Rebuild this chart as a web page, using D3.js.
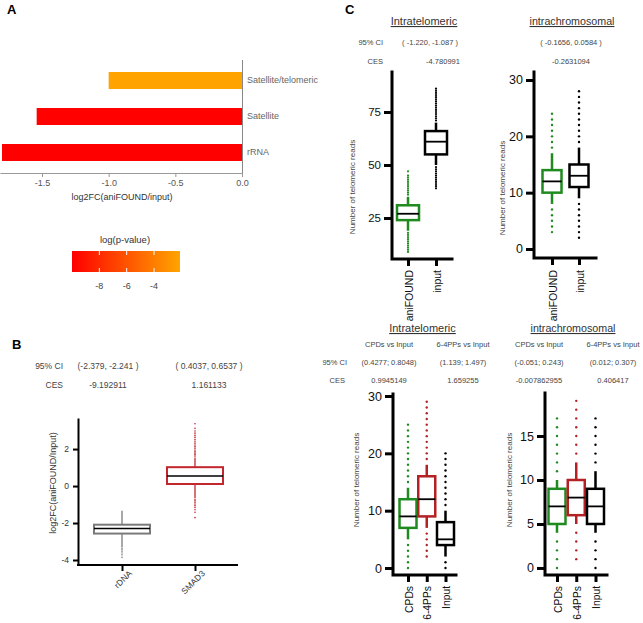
<!DOCTYPE html>
<html><head><meta charset="utf-8">
<script src="https://cdn.jsdelivr.net/npm/d3@7"></script>
<style>body{margin:0;background:#fff}svg{display:block}</style>
</head><body>
<script>
// ---------------- DATA ----------------
// Panel A
const aCategories = ["Satellite/telomeric", "Satellite", "rRNA"];
const aLog2FC = [-1.0, -1.54, -1.80];
const aLogP = [-2.2, -9.9, -10.0];
const aTicks = [-1.5, -1.0, -0.5, 0.0];
const aLegendTicks = [-8, -6, -4];

// Panel B
const bCategories = ["rDNA", "SMAD3"];
const bQ1 = [-2.57, 0.11];
const bMedian = [-2.30, 0.54];
const bQ3 = [-2.09, 1.02];
const bWhiskerLow = [-3.32, -0.64];
const bWhiskerHigh = [-1.34, 1.55];
const bOutliersRDNA = [-3.38, -3.45, -3.53, -3.62, -3.72, -3.86];
const bOutliersSMAD3 = [1.62, 1.70, 1.78, 1.86, 1.95, 2.04, 2.13, 2.22, 2.32, 2.42, 2.52, 2.63, 2.74, 2.86, 2.98, 3.12, 3.37,
                        -0.72, -0.80, -0.88, -0.97, -1.06, -1.16, -1.28, -1.42, -1.71];
const bCI = ["(-2.379, -2.241 )", "( 0.4037,  0.6537 )"];
const bCES = ["-9.192911", "1.161133"];
const bTicks = [2, 0, -2, -4];

// Panel C, top-left (Intratelomeric)
const c1Categories = ["aniFOUND", "input"];
const c1Q1 = [24, 55];
const c1Median = [27, 61];
const c1Q3 = [31, 66];
const c1WhiskerLow = [19, 50];
const c1WhiskerHigh = [35, 70];
const c1OutliersFound = [9, 10, 11, 12, 13, 14, 15, 16, 17, 18, 36, 37, 38, 39, 40, 41, 42, 43, 44, 45, 47];
const c1OutliersInput = [39, 40, 41, 42, 43, 44, 45, 46, 47, 48, 49, 71, 72, 73, 74, 75, 76, 77, 78, 79, 80, 81, 82, 83, 84, 85, 86];
const c1Ticks = [25, 50, 75];
const c1CI = "( -1.220, -1.087 )";
const c1CES = "-4.780991";

// Panel C, top-right (intrachromosomal)
const c2Categories = ["aniFOUND", "input"];
const c2Q1 = [10, 11];
const c2Median = [12, 13];
const c2Q3 = [14, 15];
const c2WhiskerLow = [8, 9];
const c2WhiskerHigh = [17, 18];
const c2OutliersFound = [3, 4, 5, 6, 7, 18, 19, 20, 21, 22, 23, 24];
const c2OutliersInput = [2, 3, 4, 5, 6, 7, 8, 19, 20, 21, 22, 23, 24, 25, 26, 27, 28];
const c2Ticks = [0, 10, 20, 30];
const c2CI = "( -0.1656,  0.0584 )";
const c2CES = "-0.2631094";

// Panel C, bottom-left (Intratelomeric, UV)
const c3Categories = ["CPDs", "6-4PPs", "Input"];
const c3Q1 = [7, 9, 4];
const c3Median = [9, 12, 5];
const c3Q3 = [12, 16, 8];
const c3WhiskerLow = [5, 7, 2];
const c3WhiskerHigh = [14, 18, 10];
const c3OutliersCPD = [0, 1, 2, 3, 4, 15, 16, 17, 18, 19, 20, 21, 22, 23, 24, 25];
const c3Outliers64 = [2, 3, 4, 5, 6, 19, 20, 21, 22, 23, 24, 25, 26, 27, 28, 29];
const c3OutliersInput = [0, 1, 11, 12, 13, 14, 15, 16, 17, 18, 19, 20];
const c3Ticks = [0, 10, 20, 30];
const c3Comparisons = ["CPDs vs Input", "6-4PPs vs Input"];
const c3CI = ["(0.4277; 0.8048)", "(1.139; 1.497)"];
const c3CES = ["0.9945149", "1.659255"];

// Panel C, bottom-right (intrachromosomal, UV)
const c4Categories = ["CPDs", "6-4PPs", "Input"];
const c4Q1 = [5, 6, 5];
const c4Median = [7, 8, 7];
const c4Q3 = [9, 10, 9];
const c4WhiskerLow = [4, 5, 4];
const c4WhiskerHigh = [10, 12, 11];
const c4OutliersCPD = [0, 1, 2, 3, 11, 12, 13, 14, 15, 16, 17];
const c4Outliers64 = [1, 2, 3, 4, 13, 14, 15, 16, 17, 18, 19];
const c4OutliersInput = [0, 1, 2, 3, 12, 13, 14, 15, 16, 17];
const c4Ticks = [0, 5, 10, 15];
const c4Comparisons = ["CPDs vs Input", "6-4PPs vs Input"];
const c4CI = ["(-0.051; 0.243)", "(0.012; 0.307)"];
const c4CES = ["-0.007862955", "0.406417"];

// ---------------- DRAW ----------------
const FONT = '"Liberation Sans", Arial, Helvetica, sans-serif';
const GREEN = "#1f8a1f", RED = "#b32124", BLACK = "#000";
const svg = d3.select("body").append("svg").attr("width", 643).attr("height", 623)
  .attr("font-family", FONT);

function txt(g, x, y, s, o = {}) {
  const t = g.append("text").attr("x", x).attr("y", y).text(s)
    .attr("font-size", o.size || 8).attr("fill", o.fill || "#444")
    .attr("text-anchor", o.anchor || "middle");
  if (o.weight) t.attr("font-weight", o.weight);
  if (o.underline) t.style("text-decoration", "underline");
  return t;
}

txt(svg, 7, 14, "A", {size: 13, weight: "bold", fill: "#000", anchor: "start"});
txt(svg, 12, 349, "B", {size: 13, weight: "bold", fill: "#000", anchor: "start"});
txt(svg, 345, 14, "C", {size: 13, weight: "bold", fill: "#000", anchor: "start"});

// ---- Panel A ----
const gA = svg.append("g");
const ax = d3.scaleLinear().domain([-1.815, 0]).range([0, 242]);
const ay = d3.scaleBand().domain(aCategories).range([53, 180]).padding(0.528);
const pColor = d3.scaleLinear().domain([-10, -2.1]).range(["#ff0000", "#ffa500"]);

gA.selectAll("rect.bar").data(aCategories).join("rect").attr("class", "bar")
  .attr("x", (d, i) => ax(aLog2FC[i])).attr("y", d => ay(d))
  .attr("width", (d, i) => ax(0) - ax(aLog2FC[i])).attr("height", ay.bandwidth())
  .attr("fill", (d, i) => pColor(aLogP[i]));

const axA = gA.append("g").attr("transform", "translate(0,173)")
  .call(d3.axisBottom(ax).tickValues(aTicks).tickSize(4).tickSizeOuter(0).tickPadding(3)
    .tickFormat(d => d.toFixed(1)));
axA.attr("font-family", FONT);
axA.select(".domain").attr("stroke", "#999");
axA.selectAll(".tick line").attr("stroke", "#999");
axA.selectAll(".tick text").attr("fill", "#555").attr("font-size", 9);

const ayA = gA.append("g").attr("transform", "translate(242,0)")
  .call(d3.axisRight(ay).tickSize(0).tickPadding(5));
ayA.attr("font-family", FONT);
ayA.select(".domain").attr("d", "M0.5,60V173").attr("stroke", "#888");
ayA.selectAll(".tick text").attr("fill", "#666").attr("font-size", 9);

txt(gA, 122, 200, "log2FC(aniFOUND/input)", {size: 9, fill: "#333"});

// legend
const lx = d3.scaleLinear().domain([-10, -2.1]).range([72, 180]);
const defs = svg.append("defs");
const grad = defs.append("linearGradient").attr("id", "pgrad");
d3.range(0, 1.0001, 0.1).forEach(t => {
  grad.append("stop").attr("offset", t).attr("stop-color", pColor(lx.invert(72 + t * 108)));
});
txt(gA, 125, 243, "log(p-value)", {size: 9.5, fill: "#333"});
gA.append("rect").attr("x", 72).attr("y", 251).attr("width", 108).attr("height", 21).attr("fill", "url(#pgrad)");
aLegendTicks.forEach(t => {
  gA.append("line").attr("x1", lx(t)).attr("x2", lx(t)).attr("y1", 251).attr("y2", 255).attr("stroke", "#fff").attr("stroke-width", 1);
  gA.append("line").attr("x1", lx(t)).attr("x2", lx(t)).attr("y1", 268).attr("y2", 272).attr("stroke", "#fff").attr("stroke-width", 1);
  txt(gA, lx(t), 289, String(t), {size: 9, fill: "#444"});
});

// ---- box helper ----
function drawBoxes(g, cats, x, y, bw, q1, med, q3, lo, hi, outs, colors, st) {
  cats.forEach((c, i) => {
    const cx = x(c), col = colors[i];
    g.append("line").attr("x1", cx).attr("x2", cx).attr("y1", y(q3[i])).attr("y2", y(hi[i]))
      .attr("stroke", col).attr("stroke-width", st.whisker);
    g.append("line").attr("x1", cx).attr("x2", cx).attr("y1", y(q1[i])).attr("y2", y(lo[i]))
      .attr("stroke", col).attr("stroke-width", st.whisker);
    g.append("rect").attr("x", cx - bw / 2).attr("y", y(q3[i])).attr("width", bw)
      .attr("height", y(q1[i]) - y(q3[i])).attr("fill", "#fff").attr("stroke", col).attr("stroke-width", st.box);
    g.append("line").attr("x1", cx - bw / 2).attr("x2", cx + bw / 2).attr("y1", y(med[i])).attr("y2", y(med[i]))
      .attr("stroke", "#000").attr("stroke-width", st.median);
    g.selectAll(null).data(outs[i]).join("circle")
      .attr("cx", cx).attr("cy", d => y(d)).attr("r", st.r).attr("fill", st.dotColor ? st.dotColor[i] : col);
  });
}

// ---- Panel B ----
const gB = svg.append("g");
const by = d3.scaleLinear().domain([-4.27, 3.68]).range([565, 418]);
const bx = d3.scalePoint().domain(bCategories).range([122, 195]);
const bHeaderX = [108, 209];
txt(gB, 63, 369, "95% CI", {size: 8.5, anchor: "end"});
txt(gB, 63, 388, "CES", {size: 8.5, anchor: "end"});
bCategories.forEach((c, i) => {
  txt(gB, bHeaderX[i], 369, bCI[i], {size: 8.5});
  txt(gB, bHeaderX[i], 388, bCES[i], {size: 8.5});
});
drawBoxes(gB, bCategories, bx, by, 56, bQ1, bMedian, bQ3, bWhiskerLow, bWhiskerHigh,
  [bOutliersRDNA, bOutliersSMAD3], ["#7a7a7a", "#c1272d"],
  {whisker: 1.3, box: 2, median: 1.5, r: 0.8, dotColor: ["#888", "#c1272d"]});
const byAx = gB.append("g").attr("transform", "translate(78,0)")
  .call(d3.axisLeft(by).tickValues(bTicks).tickSize(5).tickSizeOuter(0).tickPadding(4).tickFormat(d => String(d)));
byAx.attr("font-family", FONT);
byAx.selectAll("path,line").attr("stroke", "#000").attr("stroke-width", 2);
byAx.selectAll(".tick text").attr("font-size", 8.5).attr("fill", "#333");
const bxAx = gB.append("g").attr("transform", "translate(0,565)")
  .call(d3.axisBottom(bx).tickSize(6).tickSizeOuter(0));
bxAx.attr("font-family", FONT);
bxAx.select(".domain").attr("d", "M77,0H238");
bxAx.selectAll("path,line").attr("stroke", "#000").attr("stroke-width", 2);
bxAx.selectAll(".tick text").attr("font-size", 8.5).attr("fill", "#333")
  .attr("text-anchor", "end").attr("x", 0).attr("y", 0).attr("dy", 0)
  .attr("transform", "translate(10,9) rotate(-45)");
txt(gB, 0, 0, "log2FC(aniFOUND/Input)", {size: 9, fill: "#333"})
  .attr("transform", "translate(56,483) rotate(-90)");

// ---- Panel C helper ----
function drawC(cfg) {
  const g = svg.append("g");
  const y = d3.scaleLinear().domain(cfg.yDomain).range([cfg.yBottom, cfg.yTop]);
  const x = d3.scalePoint().domain(cfg.cats).range(cfg.xRange);
  drawBoxes(g, cfg.cats, x, y, cfg.bw, cfg.q1, cfg.med, cfg.q3, cfg.lo, cfg.hi, cfg.outs, cfg.colors,
    {whisker: 2.5, box: 2.5, median: 1.8, r: cfg.r || 1.2});
  const yAx = g.append("g").attr("transform", `translate(${cfg.axisX},0)`)
    .call(d3.axisLeft(y).tickValues(cfg.ticks).tickSize(8).tickSizeOuter(0).tickPadding(3));
  yAx.attr("font-family", FONT);
  yAx.select(".domain").remove();
  yAx.selectAll(".tick line").attr("stroke", "#000").attr("stroke-width", 3);
  yAx.selectAll(".tick text").attr("font-size", cfg.tickSize).attr("fill", "#111");
  const xAx = g.append("g").attr("transform", `translate(0,${cfg.yBottom})`)
    .call(d3.axisBottom(x).tickSize(7).tickSizeOuter(0));
  xAx.attr("font-family", FONT);
  xAx.select(".domain").remove();
  xAx.selectAll(".tick line").attr("stroke", "#000").attr("stroke-width", 3);
  xAx.selectAll(".tick text").attr("font-size", cfg.catSize).attr("fill", "#111")
    .attr("text-anchor", "end").attr("x", 0).attr("y", 0).attr("dy", 0)
    .attr("transform", `translate(4,${cfg.catOffset}) rotate(-90)`);
  g.append("path").attr("d", `M${cfg.axisX},${cfg.yTop}V${cfg.yBottom}H${cfg.xEnd}`)
    .attr("fill", "none").attr("stroke", "#000").attr("stroke-width", 3).attr("stroke-linecap", "square");
  txt(g, 0, 0, "Number of telomeric reads", {size: 8, fill: "#444"})
    .attr("transform", `translate(${cfg.titleX},${cfg.titleY}) rotate(-90)`);
  return g;
}

// C1
const g1 = drawC({cats: c1Categories, q1: c1Q1, med: c1Median, q3: c1Q3, lo: c1WhiskerLow, hi: c1WhiskerHigh,
  outs: [c1OutliersFound, c1OutliersInput], colors: [GREEN, BLACK], ticks: c1Ticks,
  yDomain: [5.66, 93.87], yBottom: 259, yTop: 72, xRange: [408, 436], bw: 22, axisX: 392, xEnd: 452,
  tickSize: 11.5, catSize: 10.5, catOffset: 11, titleX: 355, titleY: 187, r: 1.1});
txt(g1, 424, 25, "Intratelomeric", {size: 11, fill: "#333", underline: true});
txt(g1, 383, 45, "95% CI", {size: 7.5, anchor: "end"});
txt(g1, 383, 64, "CES", {size: 7.5, anchor: "end"});
txt(g1, 430, 45, c1CI, {size: 7.5});
txt(g1, 443, 64, c1CES, {size: 7.5});

// C2
const g2 = drawC({cats: c2Categories, q1: c2Q1, med: c2Median, q3: c2Q3, lo: c2WhiskerLow, hi: c2WhiskerHigh,
  outs: [c2OutliersFound, c2OutliersInput], colors: [GREEN, BLACK], ticks: c2Ticks,
  yDomain: [-1.6, 31.42], yBottom: 258, yTop: 72, xRange: [552, 579], bw: 19, axisX: 534, xEnd: 596,
  tickSize: 12.5, catSize: 10.5, catOffset: 12, titleX: 505, titleY: 188});
txt(g2, 572, 25, "intrachromosomal", {size: 10.7, fill: "#333", underline: true});
txt(g2, 571, 45, c2CI, {size: 7.5});
txt(g2, 571, 64, c2CES, {size: 7.5});

// C3
const g3 = drawC({cats: c3Categories, q1: c3Q1, med: c3Median, q3: c3Q3, lo: c3WhiskerLow, hi: c3WhiskerHigh,
  outs: [c3OutliersCPD, c3Outliers64, c3OutliersInput], colors: [GREEN, RED, BLACK], ticks: c3Ticks,
  yDomain: [-1.22, 30.35], yBottom: 575, yTop: 394, xRange: [408, 445.5], bw: 17, axisX: 393, xEnd: 456,
  tickSize: 12.5, catSize: 10.3, catOffset: 11, titleX: 359, titleY: 480});
txt(g3, 422.5, 332, "Intratelomeric", {size: 11, fill: "#333", underline: true});
txt(g3, 347, 365, "95% CI", {size: 7.5, anchor: "end"});
txt(g3, 345, 383, "CES", {size: 7.5, anchor: "end"});
const c3HeaderX = [389, 463];
c3Comparisons.forEach((c, i) => {
  txt(g3, c3HeaderX[i], 347, c, {size: 7.5});
  txt(g3, c3HeaderX[i], 365, c3CI[i], {size: 7.5});
  txt(g3, c3HeaderX[i], 383, c3CES[i], {size: 7.5});
});

// C4
const g4 = drawC({cats: c4Categories, q1: c4Q1, med: c4Median, q3: c4Q3, lo: c4WhiskerLow, hi: c4WhiskerHigh,
  outs: [c4OutliersCPD, c4Outliers64, c4OutliersInput], colors: [GREEN, RED, BLACK], ticks: c4Ticks,
  yDomain: [-0.8, 19.89], yBottom: 575, yTop: 393, xRange: [557, 595.5], bw: 17, axisX: 545, xEnd: 607,
  tickSize: 12.5, catSize: 10.3, catOffset: 11, titleX: 512, titleY: 480});
txt(g4, 573, 332, "intrachromosomal", {size: 10.7, fill: "#333", underline: true});
const c4HeaderX = [539, 613];
c4Comparisons.forEach((c, i) => {
  txt(g4, c4HeaderX[i], 347, c, {size: 7.5});
  txt(g4, c4HeaderX[i], 365, c4CI[i], {size: 7.5});
  txt(g4, c4HeaderX[i], 383, c4CES[i], {size: 7.5});
});
</script>
</body></html>
